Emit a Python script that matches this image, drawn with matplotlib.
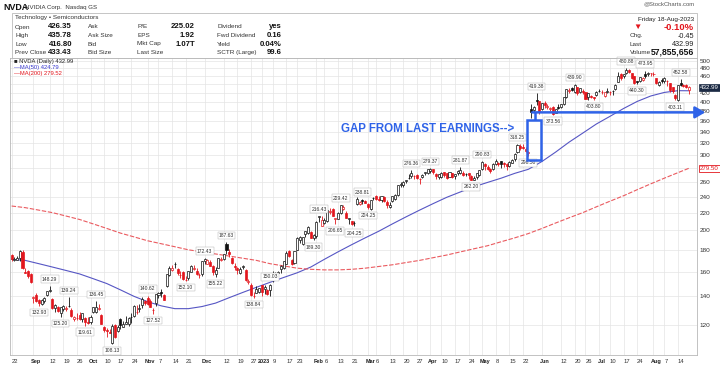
import matplotlib.pyplot as plt
import numpy as np
import pandas as pd
from matplotlib.patches import Rectangle
from matplotlib.transforms import ScaledTranslation

plt.rcParams['font.family'] = ['Liberation Sans', 'DejaVu Sans']

# trading days, Aug 22 2022 .. Aug 18 2023
holidays = ['2022-09-05', '2022-11-24', '2022-12-26', '2023-01-02', '2023-01-16',
            '2023-02-20', '2023-04-07', '2023-05-29', '2023-06-19', '2023-07-04']
dates = pd.bdate_range('2022-08-22', '2023-08-18', freq='C', holidays=holidays)

prev_close_start = 176.0

opens = [
    174.9, 170.5, 170.8, 172.5, 178.0, 160.0, 160.8, 157.9,
    139.0, 140.9, 137.0, 134.3, 136.2, 140.8, 144.0, 138.0, 131.8, 132.4, 128.0, 130.8, 130.8, 133.0, 130.0, 124.0, 124.3, 126.9, 124.0, 124.3, 122.0,
    122.0, 129.0, 128.8, 131.0, 126.5, 118.6, 116.6, 115.4, 109.0, 120.1, 116.0, 124.1, 118.6, 120.5, 120.9, 124.9, 126.0, 128.5, 130.5, 133.7, 136.4,
    138.4, 136.5, 130.0, 135.0, 141.0, 142.8, 140.9, 148.0, 157.0, 161.5, 167.0, 162.5, 157.5, 160.0, 152.7, 154.5, 160.0, 162.5, 160.6, 157.0, 157.7,
    169.3, 166.9, 168.5, 164.8, 158.0, 163.0, 170.5, 171.0, 186.0, 177.5, 172.5, 165.1, 163.5, 158.4, 164.0, 161.0, 151.6, 149.0, 139.9, 142.6, 143.5,
    148.5, 145.7, 144.9, 144.7, 152.8, 155.1, 158.5, 162.0, 163.0, 167.0, 178.5, 170.0, 168.0, 180.0, 189.5, 186.1, 196.0, 197.0, 198.0, 192.0,
    194.0, 215.0, 205.2, 208.3, 210.8, 221.0, 224.2, 212.9, 213.0, 219.0, 224.8, 219.5, 212.5, 209.9, 208.0, 230.0, 230.5, 236.0, 234.6,
    230.8, 224.0, 238.0, 240.5, 236.8, 236.0, 240.0, 233.0, 226.5, 234.0, 237.0, 241.5, 255.0, 256.0, 261.5, 265.0, 268.0, 268.5, 270.0, 264.5, 266.0, 273.0, 273.0,
    275.1, 278.0, 271.0, 266.5, 267.0, 273.5, 272.0, 267.0, 272.0, 268.5, 273.0, 272.5, 272.5, 271.0, 272.0, 268.0, 262.5, 266.0, 270.0,
    278.4, 286.0, 282.0, 278.2, 278.0, 286.0, 288.0, 290.0, 287.0, 286.0, 283.0, 288.0, 294.0, 305.0, 315.5, 313.0, 310.0, 303.0, 385.2, 382.0, 405.0, 402.0,
    384.9, 397.0, 390.0, 386.0, 389.0, 377.0, 390.0, 389.0, 395.0, 411.0, 425.0, 432.0, 422.0, 433.0, 422.0, 424.0, 421.0, 410.0, 414.0, 410.0, 416.0,
    425.2, 421.5, 414.0, 421.0, 423.0, 424.0, 430.0, 446.0, 465.0, 460.0, 467.0, 474.0, 468.0, 459.0, 447.0, 449.0, 451.0, 465.0, 465.0, 467.0,
    464.0, 454.0, 439.0, 451.0, 447.0, 449.0, 443.0, 434.0, 415.0, 404.0, 443.0, 439.0, 438.0, 426.35,
]
highs = [
    175.7, 173.0, 174.1, 179.6, 180.0, 162.8, 161.5, 158.9,
    140.0, 142.7, 138.1, 137.7, 139.7, 144.3, 148.3, 138.6, 134.4, 133.0, 132.3, 133.3, 132.6, 139.2, 131.8, 125.9, 127.9, 128.7, 128.1, 125.5, 125.0,
    126.5, 132.5, 136.45, 134.4, 127.0, 119.4, 118.1, 117.6, 120.3, 120.8, 119.7, 124.6, 122.7, 125.8, 125.1, 127.8, 133.3, 133.8, 134.0, 139.6, 137.0,
    140.6, 138.0, 131.6, 142.0, 143.4, 145.8, 141.8, 157.9, 164.5, 166.0, 168.5, 163.3, 160.7, 160.2, 155.9, 160.5, 166.0, 165.5, 163.5, 159.0, 169.3,
    172.4, 171.2, 170.0, 165.8, 164.4, 172.3, 173.5, 176.0, 187.6, 180.5, 172.7, 167.2, 164.0, 164.0, 166.0, 162.0, 154.0, 150.2, 143.1, 147.7, 146.7,
    149.0, 148.5, 145.6, 150.0, 160.6, 159.9, 160.7, 166.2, 169.0, 179.1, 180.0, 171.2, 178.5, 192.6, 194.0, 193.2, 199.6, 205.0, 199.6, 196.0,
    209.9, 216.4, 216.1, 213.2, 224.0, 225.1, 225.5, 213.5, 221.3, 229.4, 228.7, 222.4, 213.4, 210.7, 210.0, 238.9, 234.5, 237.0, 235.5,
    231.5, 236.0, 240.0, 241.8, 240.7, 240.3, 240.2, 235.5, 233.0, 241.0, 243.0, 255.9, 259.4, 261.0, 263.0, 271.0, 276.4, 270.0, 271.0, 265.0, 271.0, 274.5, 277.8,
    279.4, 278.9, 272.0, 271.0, 273.8, 274.3, 272.4, 274.5, 273.0, 271.5, 276.4, 281.9, 275.5, 272.5, 273.0, 269.0, 268.5, 272.5, 277.5,
    290.8, 287.0, 285.0, 280.0, 288.0, 293.2, 289.0, 290.0, 288.5, 287.0, 290.0, 294.0, 303.5, 318.2, 318.2, 318.0, 313.0, 307.0, 394.8, 392.0, 419.4, 402.0,
    398.0, 401.6, 396.0, 390.0, 391.5, 386.0, 395.0, 395.5, 411.0, 430.0, 432.0, 433.5, 439.9, 433.0, 431.0, 428.0, 422.5, 419.0, 416.0, 411.5, 425.0,
    428.4, 427.0, 422.5, 432.0, 425.0, 426.0, 440.0, 469.0, 467.0, 466.0, 480.9, 478.0, 468.5, 461.0, 449.0, 457.0, 458.0, 473.9, 470.0, 468.0,
    469.0, 455.0, 449.0, 456.0, 457.0, 450.0, 444.0, 434.5, 418.0, 437.9, 452.6, 441.0, 440.0, 435.8,
]
lows = [
    169.8, 169.5, 170.0, 169.5, 162.5, 158.5, 154.4, 150.7,
    135.3, 135.5, 132.9, 133.5, 135.0, 140.2, 143.6, 131.0, 129.0, 128.5, 125.2, 129.4, 129.5, 131.9, 124.9, 122.6, 123.4, 123.5, 122.0, 119.6, 120.5,
    120.8, 128.0, 128.0, 129.9, 120.3, 115.2, 112.3, 114.9, 108.1, 112.0, 115.2, 117.1, 118.5, 120.3, 119.2, 121.2, 125.3, 127.3, 128.7, 131.6, 133.9,
    133.5, 132.0, 127.5, 133.0, 138.5, 139.5, 137.1, 146.9, 156.5, 160.3, 162.8, 157.5, 154.6, 153.0, 152.1, 153.3, 159.6, 161.5, 156.9, 154.7, 156.5,
    167.1, 166.5, 164.6, 157.1, 155.2, 162.8, 169.2, 170.0, 175.5, 173.5, 166.3, 161.5, 158.0, 157.8, 162.3, 152.0, 149.3, 140.6, 139.0, 142.4, 142.5,
    140.3, 142.0, 141.3, 140.3, 151.4, 154.3, 156.5, 159.0, 162.5, 166.3, 172.9, 165.5, 167.1, 180.0, 186.5, 185.0, 192.5, 196.0, 191.5, 189.3,
    191.6, 208.9, 204.6, 207.3, 209.6, 218.6, 215.5, 206.7, 212.0, 218.0, 222.8, 213.3, 206.7, 205.6, 204.2, 228.9, 228.9, 230.8, 231.3,
    224.3, 223.0, 235.3, 235.5, 233.7, 233.0, 232.5, 226.0, 225.0, 233.0, 235.7, 240.6, 252.5, 252.5, 258.0, 263.5, 265.4, 263.5, 263.8, 257.3, 265.0, 270.0, 270.5,
    271.8, 271.0, 263.8, 264.0, 265.0, 266.8, 264.3, 266.8, 265.5, 264.5, 269.5, 271.7, 268.0, 267.5, 264.5, 262.2, 262.2, 263.8, 268.5,
    277.4, 277.0, 277.3, 272.4, 277.0, 285.2, 282.5, 280.0, 282.0, 277.0, 282.0, 287.8, 290.0, 303.0, 308.0, 310.0, 305.0, 298.5, 366.3, 378.0, 393.0, 374.0,
    382.0, 388.0, 384.5, 380.0, 373.6, 376.0, 386.0, 387.0, 394.0, 408.0, 420.5, 424.0, 419.0, 416.0, 420.0, 418.0, 405.6, 405.0, 408.0, 403.8, 413.0,
    421.0, 417.5, 411.5, 420.0, 415.0, 415.5, 426.0, 445.0, 451.0, 456.0, 464.5, 467.0, 453.0, 440.0, 440.0, 446.0, 447.0, 455.0, 460.0, 460.0,
    460.0, 440.0, 437.0, 444.0, 442.0, 437.0, 421.0, 420.0, 403.1, 403.0, 437.0, 434.0, 431.0, 416.8,
]
closes = [
    170.9, 171.5, 172.2, 179.2, 163.0, 159.0, 156.0, 151.0,
    139.4, 136.5, 134.7, 137.1, 139.0, 143.8, 145.2, 131.3, 133.4, 129.7, 132.0, 133.0, 131.4, 132.6, 125.6, 125.2, 124.3, 124.0, 127.8, 122.2, 121.4,
    125.2, 132.0, 132.2, 131.3, 120.8, 116.7, 115.9, 115.0, 119.6, 112.3, 118.9, 119.7, 120.5, 121.9, 124.7, 125.1, 132.6, 129.0, 131.8, 138.3, 135.0,
    134.4, 132.4, 130.0, 141.6, 142.2, 142.7, 137.4, 157.6, 163.3, 162.9, 166.7, 159.1, 156.8, 154.1, 153.2, 160.4, 165.2, 163.2, 158.3, 157.1, 169.2,
    171.4, 170.5, 165.0, 159.3, 161.7, 171.8, 171.6, 175.8, 179.8, 176.3, 167.4, 163.9, 161.2, 162.3, 165.3, 153.2, 152.1, 141.2, 140.4, 146.0, 146.1,
    143.2, 147.5, 142.1, 148.6, 156.3, 159.1, 160.0, 165.1, 169.0, 177.0, 173.8, 166.7, 178.4, 192.2, 192.8, 193.2, 199.0, 203.7, 191.8, 195.4,
    209.4, 216.0, 211.0, 211.4, 222.9, 222.0, 216.6, 213.0, 220.0, 228.7, 227.4, 213.9, 213.9, 206.6, 207.6, 236.6, 233.0, 234.5, 232.2,
    226.5, 235.4, 238.7, 236.8, 236.1, 240.1, 233.7, 229.2, 229.6, 240.6, 242.3, 255.4, 257.3, 259.0, 262.0, 264.7, 271.9, 267.8, 265.3, 264.1, 269.8, 273.8, 277.8,
    278.6, 274.5, 268.8, 270.4, 273.0, 269.0, 265.0, 274.0, 267.3, 270.4, 275.0, 276.4, 270.0, 271.1, 270.1, 262.4, 265.2, 272.3, 277.5,
    289.1, 282.8, 278.0, 275.4, 286.6, 291.5, 285.7, 286.7, 285.8, 283.4, 289.5, 292.1, 301.8, 316.8, 312.6, 311.8, 306.9, 305.4, 379.8, 389.5, 401.1, 378.3,
    397.7, 393.3, 391.7, 386.5, 374.8, 385.1, 387.7, 394.8, 410.2, 430.0, 426.5, 426.9, 438.1, 420.2, 430.3, 422.1, 406.3, 418.8, 411.2, 408.2, 423.0,
    424.1, 423.0, 421.8, 425.0, 421.8, 424.0, 439.0, 459.8, 454.7, 464.6, 474.9, 470.8, 455.2, 443.1, 446.1, 456.8, 454.5, 459.0, 467.5, 467.3,
    465.1, 442.7, 445.2, 446.8, 454.2, 446.6, 425.5, 423.9, 408.6, 437.5, 439.4, 434.8, 433.4, 432.99,
]

# moving averages every 5 sessions
ma_idx = list(range(0, 250, 5)) + [249]
ma50 = [171, 170, 167, 164, 161, 158, 154, 150, 145, 140, 136, 133, 131, 131, 132.5, 135, 139,
        143, 147, 151, 155, 159, 164, 171, 178, 185, 192, 199, 207, 215, 223, 231, 239, 246,
        253, 259, 265, 272, 278, 290, 305, 322, 338, 355, 370, 386, 401, 413, 421, 425, 424.8]
ma200 = [228, 226, 223, 220, 216, 212, 207, 202, 197, 193, 189, 186, 183, 180, 178, 176, 174,
         172, 170, 167, 165, 163, 162, 161.5, 161.5, 162, 163, 164.5, 166, 168, 170, 172.5, 175,
         178, 181, 184, 188, 192, 196.5, 202, 208, 214, 220, 227, 234, 241, 249, 257, 265, 273, 279.5]

# swing labels
ann_dates = ['2022-09-06', '2022-09-12', '2022-09-16', '2022-09-21', '2022-09-29', '2022-10-05',
             '2022-10-13', '2022-11-01', '2022-11-03', '2022-11-21', '2022-12-01', '2022-12-07',
             '2022-12-13', '2022-12-28', '2023-01-06', '2023-01-31', '2023-02-02', '2023-02-10',
             '2023-02-14', '2023-02-22', '2023-02-27', '2023-03-01', '2023-03-23', '2023-04-03',
             '2023-04-19', '2023-04-25', '2023-05-01', '2023-05-18', '2023-05-24', '2023-05-30',
             '2023-06-07', '2023-06-20', '2023-06-29', '2023-07-18', '2023-07-24', '2023-07-27',
             '2023-08-11', '2023-08-15']
ann_text = ['132.93', '148.29', '125.20', '139.24', '119.61', '136.45',
            '108.13', '140.62', '127.52', '152.10', '172.43', '155.22',
            '187.63', '138.84', '150.03', '189.30', '216.43', '206.65',
            '229.42', '204.25', '238.81', '224.25', '276.36', '279.37',
            '281.87', '262.20', '290.83', '318.25', '298.50', '419.38',
            '373.56', '439.90', '403.80', '480.88', '440.30', '473.95',
            '403.11', '452.58']
ann_side = ['l', 'h', 'l', 'h', 'l', 'h', 'l', 'h', 'l', 'l', 'h', 'l', 'h', 'l', 'h', 'l', 'h', 'l',
            'h', 'l', 'h', 'l', 'h', 'h', 'h', 'l', 'h', 'h', 'l', 'h', 'l', 'h', 'l', 'h', 'l', 'h',
            'l', 'h']

tick_dates = ['2022-08-22', '2022-09-01', '2022-09-12', '2022-09-19', '2022-09-26', '2022-10-03',
              '2022-10-10', '2022-10-17', '2022-10-24', '2022-11-01', '2022-11-07', '2022-11-14',
              '2022-11-21', '2022-12-01', '2022-12-12', '2022-12-19', '2022-12-27', '2023-01-03',
              '2023-01-09', '2023-01-17', '2023-01-23', '2023-02-01', '2023-02-06', '2023-02-13',
              '2023-02-21', '2023-03-01', '2023-03-06', '2023-03-13', '2023-03-20', '2023-03-27',
              '2023-04-03', '2023-04-10', '2023-04-17', '2023-04-24', '2023-05-01', '2023-05-08',
              '2023-05-15', '2023-05-22', '2023-06-01', '2023-06-12', '2023-06-20', '2023-06-26',
              '2023-07-03', '2023-07-10', '2023-07-17', '2023-07-24', '2023-08-01', '2023-08-07',
              '2023-08-14']
tick_text = ['22', 'Sep', '12', '19', '26', 'Oct', '10', '17', '24', 'Nov', '7', '14', '21', 'Dec',
             '12', '19', '27', '2023', '9', '17', '23', 'Feb', '6', '13', '21', 'Mar', '6', '13',
             '20', '27', 'Apr', '10', '17', '24', 'May', '8', '15', '22', 'Jun', '12', '20', '26',
             'Jul', '10', '17', '24', 'Aug', '7', '14']
price_ticks = list(range(120, 520, 20))
hidden_ticks = [280, 440]  # covered by the price tags

# earnings gap markup
gap_box = ('2023-05-24', '2023-05-31', 292, 362)
gap_level = 378

pos = {d.strftime('%Y-%m-%d'): i for i, d in enumerate(dates)}
o, h, l, c = map(np.array, (opens, highs, lows, closes))
n = len(c)

RED = '#e3161d'
BLACK = '#111111'
BLUE = '#2f63e8'
W, H = 720, 378

fig = plt.figure(figsize=(W / 100, H / 100), dpi=100)
ax = fig.add_axes([10 / W, 1 - 355 / H, 687 / W, 297 / H])
ax.set_yscale('log')
ax.set_ylim(102, 507)
ax.set_xlim(-0.6, 252)

prev = np.r_[prev_close_start, c[:-1]]
cols = np.where(c >= prev, BLACK, RED)
x = np.arange(n)
ax.vlines(x, l, h, colors=cols, lw=0.6, zorder=3)
body = np.abs(c - o)
body = np.where(body < 0.4, 0.4, body)
faces = [col if cc < oo else 'white' for col, cc, oo in zip(cols, c, o)]
ax.bar(x, body, bottom=np.minimum(o, c), width=0.75, color=faces, edgecolor=cols,
       linewidth=0.5, zorder=4)

ax.plot(ma_idx, ma50, color='#5656c4', lw=0.8, zorder=2)
ax.plot(ma_idx, ma200, color='#ea5a5f', lw=0.8, ls=(0, (4, 1.5)), zorder=2)

for d, t, s in zip(ann_dates, ann_text, ann_side):
    i = pos[d]
    up = s == 'h'
    ax.annotate(t, (i, h[i] if up else l[i]), xytext=(0, 3 if up else -3),
                textcoords='offset points', ha='center', va='bottom' if up else 'top',
                fontsize=3.6, color='#333333', zorder=6,
                bbox=dict(boxstyle='square,pad=0.25', fc='white', ec='#aaaaaa', lw=0.3))

# axes styling
ax.yaxis.tick_right()
ax.set_yticks(price_ticks)
ax.set_yticklabels(['' if p in hidden_ticks else str(p) for p in price_ticks],
                   fontsize=4.6, color='#333333')
ax.yaxis.set_minor_locator(plt.NullLocator())
ax.set_xticks([pos[d] for d in tick_dates])
ax.set_xticklabels([])
xtr = ax.get_xaxis_transform()
for d, t in zip(tick_dates, tick_text):
    i = pos[d]
    if t.isdigit() and t != '2023':
        ax.text(i, -0.014, t, transform=xtr, ha='left', va='top', fontsize=4.2,
                color='#333333', clip_on=False)
    else:
        ax.text(i + 0.9, -0.014, t, transform=xtr, ha='center', va='top', fontsize=4.0,
                fontweight='bold', color='#222222', clip_on=False)
ax.tick_params(axis='both', length=0, pad=2)
ax.grid(True, color='#e4e4e4', lw=0.5, zorder=0)
for sp in ax.spines.values():
    sp.set_color('#b8b8b8')
    sp.set_linewidth(0.6)

# right-edge price tags
tr = ax.get_yaxis_transform()
ax.text(1.004, c[-1], '%.2f' % c[-1], transform=tr, fontsize=4.4, color='white', va='center',
        ha='left', zorder=7, clip_on=False,
        bbox=dict(boxstyle='square,pad=0.2', fc='#1b2a44', ec='#1b2a44', lw=0.5))
ax.text(1.004, ma200[-1], '%.2f' % ma200[-1], transform=tr, fontsize=4.4, color=RED,
        va='center', ha='left', zorder=7, clip_on=False,
        bbox=dict(boxstyle='square,pad=0.2', fc='white', ec=RED, lw=0.6))

# gap markup
x0, x1 = pos[gap_box[0]] - 0.5, pos[gap_box[1]] + 0.5
ax.add_patch(Rectangle((x0, gap_box[2]), x1 - x0, gap_box[3] - gap_box[2], fill=False,
                       ec=BLUE, lw=1.8, zorder=8))
xm = (x0 + x1) / 2 + 0.3
ax.plot([xm, xm], [gap_box[3], gap_level], color=BLUE, lw=1.8, zorder=8,
        solid_capstyle='butt')
ax.annotate('', xy=(1.012, gap_level), xycoords=tr, xytext=(xm - 0.9, gap_level),
            textcoords='data',
            arrowprops=dict(arrowstyle='-|>,head_length=0.6,head_width=0.35', color=BLUE,
                            lw=1.8, shrinkA=0, shrinkB=0), zorder=8, annotation_clip=False)
fig.text(428 / W, 1 - 129 / H, 'GAP FROM LAST EARNINGS-->', color=BLUE, fontsize=8.3,
         fontweight='bold', ha='center', va='center')


def ft(px, py, s, **kw):
    kw.setdefault('va', 'center')
    kw.setdefault('fontsize', 4.6)
    fig.text(px / W, 1 - py / H, s, **kw)


# legend
ft(14, 62, '\u25a0 NVDA (Daily) 432.99', color='#222222', fontsize=4.2)
ft(14, 68, '\u2014MA(50) 424.79', color='#3a3ad0', fontsize=4.2)
ft(14, 74, '\u2014MA(200) 279.52', color=RED, fontsize=4.2)

# header
fig.add_artist(Rectangle((12 / W, 1 - 58 / H), 685 / W, 45 / H, transform=fig.transFigure,
                         fill=False, ec='#bbbbbb', lw=0.6))
ft(3, 8, 'NVDA', fontweight='bold', fontsize=6.4, color='#111111')
ft(25, 8, 'NVIDIA Corp.  Nasdaq GS', fontsize=4.4, color='#333333')
ft(15, 18, 'Technology \u2022 Semiconductors', fontsize=4.6, color='#333333')
rows_y = [27, 35.5, 44, 52.5]
col1 = [('Open', '426.35'), ('High', '435.78'), ('Low', '416.80'), ('Prev Close', '433.43')]
col2 = ['Ask', 'Ask Size', 'Bid', 'Bid Size']
col3 = [('P/E', '225.02'), ('EPS', '1.92'), ('Mkt Cap', '1.07T'), ('Last Size', '')]
col4 = [('Dividend', 'yes'), ('Fwd Dividend', '0.16'), ('Yield', '0.04%'), ('SCTR (Large)', '99.6')]
for y, (a, b), a2, (a3, b3), (a4, b4) in zip(rows_y, col1, col2, col3, col4):
    ft(15, y, a, color='#333333')
    ft(72, y, b, ha='right', fontweight='bold', fontsize=5.6, color='#111111')
    ft(88, y, a2, color='#333333')
    ft(137, y, a3, color='#333333')
    ft(195, y, b3, ha='right', fontweight='bold', fontsize=5.6, color='#111111')
    ft(217, y, a4, color='#333333')
    ft(282, y, b4, ha='right', fontweight='bold', fontsize=5.6, color='#111111')

ft(694, 4, '@StockCharts.com', ha='right', fontsize=4.2, color='#555555')
ft(694, 19, 'Friday 18-Aug-2023', ha='right', color='#222222')
ft(633, 27, '\u25bc', color=RED, fontsize=6)
ft(694, 27.5, '-0.10%', ha='right', color=RED, fontweight='bold', fontsize=6.8)
ft(630, 36, 'Chg.', color='#333333')
ft(694, 36, '-0.45', ha='right', color='#222222', fontsize=5.2)
ft(630, 44, 'Last', color='#333333')
ft(694, 44, '432.99', ha='right', color='#222222', fontsize=5.2)
ft(630, 52.5, 'Volume', color='#333333')
ft(694, 52.5, '57,855,656', ha='right', color='#111111', fontweight='bold', fontsize=6.2)

fig.savefig('out.png', dpi=100)
